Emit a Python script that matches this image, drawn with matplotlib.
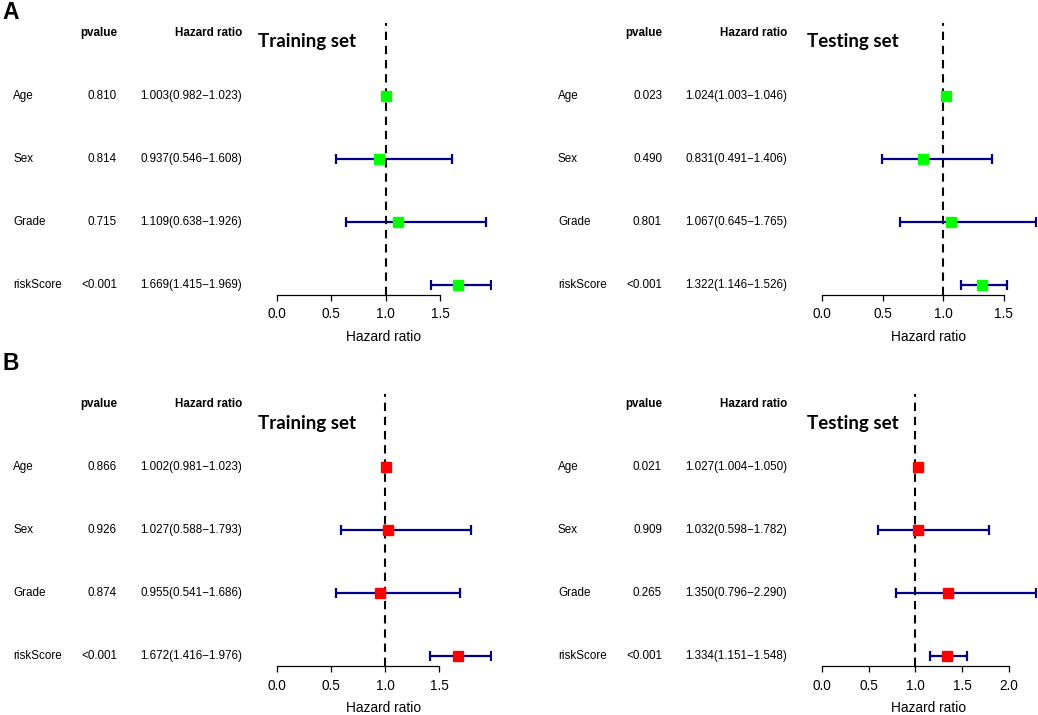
import matplotlib
matplotlib.use("Agg")
import matplotlib.pyplot as plt
import matplotlib.transforms as mtransforms
from matplotlib.ticker import MultipleLocator, FormatStrFormatter

plt.rcParams['font.family'] = ['Liberation Sans', 'DejaVu Sans']

W, H = 1038, 715

variables = ["Age", "Sex", "Grade", "riskScore"]

# A - training set
a_train_p = ["0.810", "0.814", "0.715", "<0.001"]
a_train_hr = [1.003, 0.937, 1.109, 1.669]
a_train_low = [0.982, 0.546, 0.638, 1.415]
a_train_high = [1.023, 1.608, 1.926, 1.969]

# A - testing set
a_test_p = ["0.023", "0.490", "0.801", "<0.001"]
a_test_hr = [1.024, 0.831, 1.067, 1.322]
a_test_low = [1.003, 0.491, 0.645, 1.146]
a_test_high = [1.046, 1.406, 1.765, 1.526]

# B - training set
b_train_p = ["0.866", "0.926", "0.874", "<0.001"]
b_train_hr = [1.002, 1.027, 0.955, 1.672]
b_train_low = [0.981, 0.588, 0.541, 1.416]
b_train_high = [1.023, 1.793, 1.686, 1.976]

# B - testing set
b_test_p = ["0.021", "0.909", "0.265", "<0.001"]
b_test_hr = [1.027, 1.032, 1.350, 1.334]
b_test_low = [1.004, 0.598, 0.796, 1.151]
b_test_high = [1.050, 1.782, 2.290, 1.548]


def fx(px):
    return px / W


def fy(py):
    return 1 - py / H


def forest(fig, x0, y_axis, labels, pvals, hr, low, high, box_color):
    # forest axes: 214 px wide, rows 63 px apart
    row_h = 63
    ylo, yhi = 0.84, 5.16
    height = (yhi - ylo) * row_h
    left = x0 + 277
    ax = fig.add_axes([fx(left), fy(y_axis), fx(214), height / H])
    n = len(labels)
    ys = [n - i for i in range(n)]

    ax.axvline(1, color='black', lw=1.5, ls=(0, (4, 2.8)), zorder=1)
    xerr = [[h - l for h, l in zip(hr, low)], [u - h for h, u in zip(hr, high)]]
    ax.errorbar(hr, ys, xerr=xerr, fmt='none', ecolor='#00008B',
                elinewidth=1.6, capsize=3.6, capthick=1.6, zorder=2)
    ax.plot(hr, ys, 's', color=box_color, markersize=6.8, zorder=3)

    ax.set_xlim(0, max(high))
    ax.set_ylim(ylo, yhi)
    ax.xaxis.set_major_locator(MultipleLocator(0.5))
    ax.xaxis.set_major_formatter(FormatStrFormatter('%.1f'))
    ticks = [t for t in ax.get_xticks() if 0 <= t <= max(high)]
    for s in ['top', 'right', 'left']:
        ax.spines[s].set_visible(False)
    ax.spines['bottom'].set_bounds(0, max(ticks))
    ax.spines['bottom'].set_linewidth(0.9)
    ax.set_yticks([])
    ax.tick_params(axis='x', length=4.5, width=0.9, pad=4.5, labelsize=9.8)
    ax.set_xlabel("Hazard ratio", fontsize=9.9, labelpad=6)
    ax.patch.set_alpha(0)

    tr = mtransforms.blended_transform_factory(fig.transFigure, ax.transData)
    fs = 8.4
    ax.text(fx(x0 + 117), n + 1, "pvalue", transform=tr, ha='right', va='center',
            fontsize=fs, fontweight='bold')
    ax.text(fx(x0 + 242), n + 1, "Hazard ratio", transform=tr, ha='right', va='center',
            fontsize=fs, fontweight='bold')
    for y, lab, p, h, l, u in zip(ys, labels, pvals, hr, low, high):
        ax.text(fx(x0 + 13), y, lab, transform=tr, ha='left', va='center', fontsize=fs)
        ax.text(fx(x0 + 117), y, p, transform=tr, ha='right', va='center', fontsize=fs)
        ax.text(fx(x0 + 242), y, "%.3f(%.3f\u2212%.3f)" % (h, l, u), transform=tr,
                ha='right', va='center', fontsize=fs)
    return ax


fig = plt.figure(figsize=(W / 100, H / 100), dpi=100)

forest(fig, 0, 295, variables, a_train_p, a_train_hr, a_train_low, a_train_high, '#00FF00')
forest(fig, 545, 295, variables, a_test_p, a_test_hr, a_test_low, a_test_high, '#00FF00')
forest(fig, 0, 666, variables, b_train_p, b_train_hr, b_train_low, b_train_high, '#FF0000')
forest(fig, 545, 666, variables, b_test_p, b_test_hr, b_test_low, b_test_high, '#FF0000')

# set titles and panel letters
for x, y, t in [(258, 41, "Training set"), (807, 41, "Testing set"),
                (258, 423, "Training set"), (807, 423, "Testing set")]:
    fig.text(fx(x), fy(y), t, ha='left', va='center', fontsize=13.5,
             fontweight='bold', family=['Lato', 'DejaVu Sans'])
fig.text(fx(2), fy(1), "A", ha='left', va='top', fontsize=16.5, fontweight='bold')
fig.text(fx(2), fy(352), "B", ha='left', va='top', fontsize=16.5, fontweight='bold')

fig.savefig("out.png", dpi=100)
